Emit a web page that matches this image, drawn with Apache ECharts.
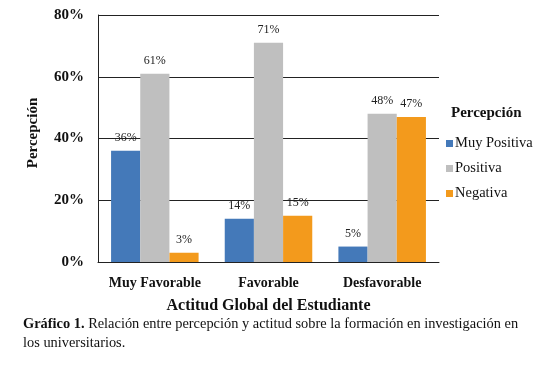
<!DOCTYPE html>
<html>
<head>
<meta charset="utf-8">
<script src="https://cdn.jsdelivr.net/npm/echarts@6/dist/echarts.min.js"></script>
<style>
html,body{margin:0;padding:0;background:#fff;}
#chart{width:545px;height:376px;}
</style>
</head>
<body>
<div id="chart"></div>
<script>
var categories = ['Muy Favorable', 'Favorable', 'Desfavorable'];
var seriesNames = ['Muy Positiva', 'Positiva', 'Negativa'];
var muyPositiva = [36, 14, 5];
var positiva = [61, 71, 48];
var negativa = [3, 15, 47];
var yTicks = [0, 20, 40, 60, 80];
var colors = ['#4479b9', '#bfbfbf', '#f39a1c'];

var FONT = '"Liberation Serif","Times New Roman",serif';
var chart = echarts.init(document.getElementById('chart'), null, {renderer: 'canvas'});

function mkSeries(name, data, color) {
  return {
    name: name,
    type: 'bar',
    data: data,
    barGap: '0%',
    barCategoryGap: '23%',
    itemStyle: {color: color},
    label: {
      show: true,
      position: 'top',
      distance: 7,
      formatter: '{c}%',
      fontFamily: FONT,
      fontSize: 12,
      color: '#222'
    }
  };
}

chart.setOption({
  animation: false,
  backgroundColor: '#fff',
  textStyle: {fontFamily: FONT},
  color: colors,
  grid: {left: 98, right: 106, top: 15, bottom: 114, containLabel: false},
  xAxis: {
    type: 'category',
    data: categories,
    name: 'Actitud Global del Estudiante',
    nameLocation: 'middle',
    nameGap: 36,
    nameTextStyle: {fontFamily: FONT, fontSize: 16, fontWeight: 'bold', color: '#111'},
    axisLine: {show: true, lineStyle: {color: '#222', width: 1}},
    axisTick: {show: false},
    axisLabel: {interval: 0, fontFamily: FONT, fontSize: 14, fontWeight: 'bold', color: '#111', margin: 14}
  },
  yAxis: {
    type: 'value',
    min: yTicks[0],
    max: yTicks[yTicks.length - 1],
    interval: 20,
    name: 'Percepción',
    nameLocation: 'middle',
    nameRotate: 90,
    nameGap: 57,
    nameTextStyle: {fontFamily: FONT, fontSize: 15, fontWeight: 'bold', color: '#111', padding: [0, 0, 0, 11]},
    axisLine: {show: true, lineStyle: {color: '#222', width: 1}},
    axisTick: {show: false},
    splitLine: {show: true, lineStyle: {color: '#222', width: 1}},
    axisLabel: {fontFamily: FONT, fontSize: 15, fontWeight: 'bold', color: '#111', margin: 14, formatter: '{value}%'}
  },
  legend: {
    orient: 'vertical',
    left: 441,
    top: 131,
    data: seriesNames,
    icon: 'rect',
    itemWidth: 7,
    itemHeight: 7,
    itemGap: 10,
    textStyle: {fontFamily: FONT, fontSize: 14.5, color: '#111', padding: [0, 0, 0, -3]}
  },
  graphic: [
    {type: 'text', left: 451, top: 106, style: {text: 'Percepción', font: 'bold 15px ' + FONT, fill: '#111'}},
    {type: 'text', left: 23, top: 317, style: {
      text: '{b|Gráfico 1.} Relación entre percepción y actitud sobre la formación en investigación en',
      rich: {b: {font: 'bold 14.4px ' + FONT, fill: '#111'}},
      font: '14.4px ' + FONT, fill: '#111'}},
    {type: 'text', left: 23, top: 336, style: {text: 'los universitarios.', font: '14.4px ' + FONT, fill: '#111'}}
  ],
  series: [
    mkSeries(seriesNames[0], muyPositiva, colors[0]),
    mkSeries(seriesNames[1], positiva, colors[1]),
    mkSeries(seriesNames[2], negativa, colors[2])
  ]
});
</script>
</body>
</html>
